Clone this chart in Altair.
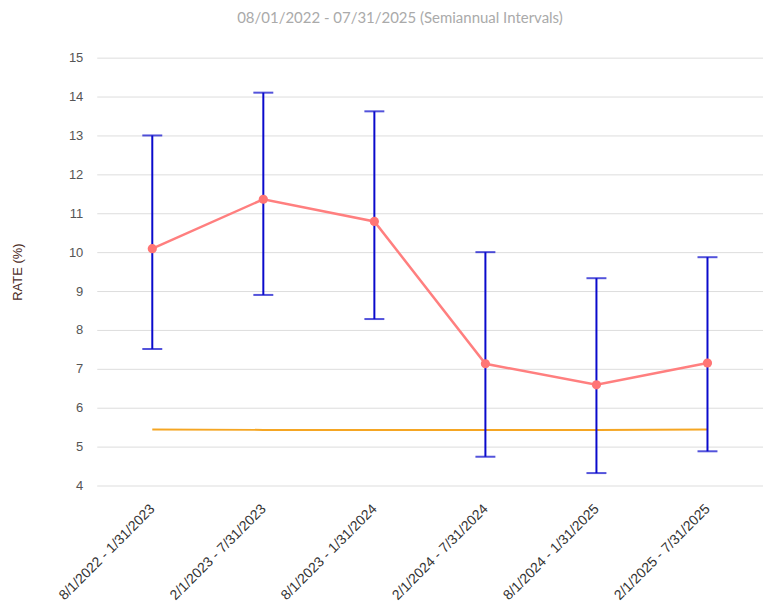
import altair as alt
import pandas as pd

periods = ["8/1/2022 - 1/31/2023", "2/1/2023 - 7/31/2023", "8/1/2023 - 1/31/2024",
           "2/1/2024 - 7/31/2024", "8/1/2024 - 1/31/2025", "2/1/2025 - 7/31/2025"]
rate = [10.09, 11.36, 10.79, 7.13, 6.59, 7.15]
upper = [13.0, 14.10, 13.62, 10.0, 9.33, 9.87]
lower = [7.51, 8.90, 8.28, 4.74, 4.32, 4.88]
benchmark = [5.44, 5.43, 5.43, 5.43, 5.43, 5.44]

df = pd.DataFrame({"period": periods, "rate": rate, "upper": upper,
                   "lower": lower, "bench": benchmark})

xenc = alt.X("period:N", sort=None,
             scale=alt.Scale(type="point", padding=0.5),
             axis=alt.Axis(title=None, labelAngle=-45, labelAlign="right",
                           labelBaseline="middle", labelFont="Liberation Sans",
                           labelFontSize=14, labelColor="#333333", ticks=False,
                           domain=False, labelPadding=21, labelOverlap=False,
                           labelLimit=300))

yscale = alt.Scale(domain=[4, 15], nice=False, zero=False)
yaxis = alt.Axis(title="RATE (%)", values=list(range(4, 16)), tickCount=12,
                 labelFont="Liberation Sans", labelFontSize=13, labelColor="#555555",
                 labelPadding=14, ticks=False, domain=False, gridColor="#dddddd",
                 titleFont="Liberation Sans", titleFontSize=13, titleFontWeight="normal",
                 titleColor="#4d2c1f", titlePadding=44)

base = alt.Chart(df)

grid = base.mark_rule(opacity=0).encode(x=xenc, y=alt.Y("rate:Q", scale=yscale, axis=yaxis))

bench = base.mark_line(color="#f5a623", strokeWidth=2).encode(
    x=alt.X("period:N", sort=None), y=alt.Y("bench:Q"))

bars = base.mark_rule(color="#0a0acc", strokeWidth=2).encode(
    x=alt.X("period:N", sort=None), y=alt.Y("lower:Q"), y2="upper:Q")

cap_hi = base.mark_tick(color="#0a0acc", size=20, thickness=2).encode(
    x=alt.X("period:N", sort=None), y=alt.Y("upper:Q"))
cap_lo = base.mark_tick(color="#0a0acc", size=20, thickness=2).encode(
    x=alt.X("period:N", sort=None), y=alt.Y("lower:Q"))

line = base.mark_line(color="#ff7f7f", strokeWidth=2.5).encode(
    x=alt.X("period:N", sort=None), y=alt.Y("rate:Q"))
pts = base.mark_circle(color="#ff7575", size=85, opacity=1).encode(
    x=alt.X("period:N", sort=None), y=alt.Y("rate:Q"))

chart = alt.layer(grid, bench, bars, cap_hi, cap_lo, line, pts).properties(
    width=668, height=429,
    title=alt.TitleParams("08/01/2022 - 07/31/2025 (Semiannual Intervals)",
                          font="Lato", fontSize=15, fontWeight="normal",
                          color="#aaaaaa", anchor="middle", dx=-30, offset=26),
    padding={"left": 89, "top": 49, "right": 0, "bottom": 117},
    autosize=alt.AutoSizeParams(type="none"),
).configure_view(stroke=None)

chart.save("out.html", embed_options={"renderer": "svg", "actions": False})
